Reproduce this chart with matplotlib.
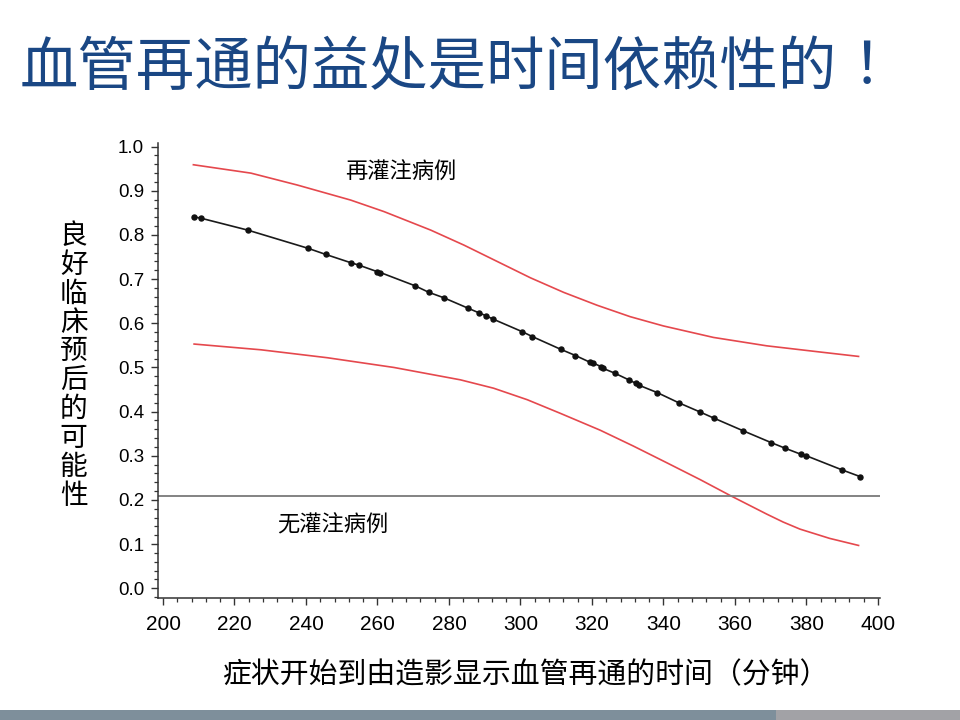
import matplotlib
matplotlib.use("Agg")
import matplotlib.pyplot as plt
from matplotlib.ticker import MultipleLocator
from matplotlib.patches import Rectangle

# ---- data ----
mean_x = [208.6, 210.6, 223.7, 240.5, 245.5, 252.6, 254.7, 259.9, 260.8, 270.5,
          274.4, 278.5, 285.4, 288.3, 290.4, 292.2, 300.5, 303.3, 311.3, 315.4,
          319.4, 320.4, 322.5, 323.1, 326.4, 330.3, 332.3, 333.1, 338.3, 344.3,
          350.3, 354.2, 362.2, 370.1, 374.1, 378.6, 380.0, 390.0, 395.0]
mean_y = [0.841, 0.838, 0.811, 0.770, 0.756, 0.737, 0.732, 0.717, 0.715, 0.685,
          0.670, 0.658, 0.634, 0.624, 0.617, 0.610, 0.581, 0.570, 0.541, 0.527,
          0.512, 0.510, 0.502, 0.498, 0.487, 0.472, 0.464, 0.460, 0.443, 0.420,
          0.399, 0.385, 0.357, 0.330, 0.317, 0.303, 0.300, 0.268, 0.253]

upper_x = [208.5, 224.6, 237.6, 252.5, 261.8, 274.9, 284.2, 293.5, 302.8, 312.1,
           321.4, 330.7, 340.0, 354.0, 368.9, 383.8, 394.6]
upper_y = [0.959, 0.940, 0.913, 0.879, 0.853, 0.811, 0.777, 0.740, 0.703, 0.670,
           0.641, 0.615, 0.594, 0.568, 0.549, 0.535, 0.525]

lower_x = [208.7, 227.4, 246.0, 264.6, 283.2, 292.5, 301.9, 311.2, 322.3, 331.6,
           341.0, 350.3, 358.7, 368.9, 373.5, 378.2, 386.5, 394.6]
lower_y = [0.553, 0.540, 0.522, 0.500, 0.472, 0.453, 0.427, 0.396, 0.358, 0.322,
           0.284, 0.246, 0.210, 0.168, 0.150, 0.134, 0.113, 0.097]

no_reperfusion_level = 0.21

title_main = "血管再通的益处是时间依赖性的"
title_mark = "！"
xlabel = "症状开始到由造影显示血管再通的时间（分钟）"
ylabel = "良好临床预后的可能性"
label_reperfused = "再灌注病例"
label_not_reperfused = "无灌注病例"

x_ticks = [200, 220, 240, 260, 280, 300, 320, 340, 360, 380, 400]
y_ticks = [0.0, 0.1, 0.2, 0.3, 0.4, 0.5, 0.6, 0.7, 0.8, 0.9, 1.0]

CJK = ["Noto Sans CJK SC", "DejaVu Sans"]
CJK_TC = ["Noto Sans CJK TC", "DejaVu Sans"]

fig = plt.figure(figsize=(9.6, 7.2), dpi=100)
ax = fig.add_axes([158 / 960, 122 / 720, 722 / 960, 454.9 / 720])

ax.plot(upper_x, upper_y, color="#e5484d", lw=1.2)
ax.plot(lower_x, lower_y, color="#e5484d", lw=1.2)
ax.axhline(no_reperfusion_level, color="#7a7a7a", lw=1.3)
ax.plot(mean_x, mean_y, color="#1a1a1a", lw=1.2, marker="o", markersize=3.6,
        markerfacecolor="#111111", markeredgecolor="#111111")

ax.text(266.5, 0.943, label_reperfused, fontsize=16, ha="center", va="center",
        family=CJK)
ax.text(247.6, 0.143, label_not_reperfused, fontsize=16, ha="center", va="center",
        family=CJK)

ax.set_xlim(198.6, 400.6)
ax.set_ylim(-0.022, 1.008)
ax.set_xticks(x_ticks)
ax.set_yticks(y_ticks)
ax.set_yticklabels([f"{v:.1f}" for v in y_ticks])
ax.xaxis.set_minor_locator(MultipleLocator(4))
ax.yaxis.set_minor_locator(MultipleLocator(0.02))

for s in ["top", "right"]:
    ax.spines[s].set_visible(False)
for s in ["left", "bottom"]:
    ax.spines[s].set_color("#333333")
    ax.spines[s].set_linewidth(1.1)

ax.tick_params(axis="both", which="major", direction="out", length=5, width=1.0,
               color="#333333")
ax.tick_params(axis="both", which="minor", direction="out", length=3, width=0.9,
               color="#333333")
ax.tick_params(axis="y", which="major", pad=5)
ax.tick_params(axis="x", which="major", pad=7)
for lab in ax.get_yticklabels():
    lab.set_fontfamily("Liberation Sans")
    lab.set_fontsize(13.5)
for lab in ax.get_xticklabels():
    lab.set_fontfamily("Liberation Sans")
    lab.set_fontsize(15)

# title
t_main = fig.text(20 / 960, 1 - 68 / 720, title_main, fontsize=42, color="#1a4784",
                  ha="left", va="center", family=CJK)
ax.annotate(title_mark, xy=(1, 0.5), xycoords=t_main, ha="left", va="center",
            fontsize=42, color="#1a4784", family=CJK_TC, annotation_clip=False)

# vertical stacked y-label
for i, ch in enumerate(ylabel):
    ypx = 221.7 + 14.4 + i * 28.83
    fig.text(73.7 / 960, 1 - ypx / 720, ch, fontsize=20, ha="center",
             va="center", family=CJK)

# x-label
fig.text(525 / 960, 1 - 675 / 720, xlabel, fontsize=20.8, ha="center",
         va="center", family=CJK)

# bottom bar
fig.patches.append(Rectangle((0, 0), 776 / 960, 10 / 720, transform=fig.transFigure,
                             facecolor="#7e8f9b", edgecolor="none"))
fig.patches.append(Rectangle((776 / 960, 0), 184 / 960, 10 / 720,
                             transform=fig.transFigure,
                             facecolor="#a2a2a6", edgecolor="none"))

fig.savefig("out.png", dpi=100)
